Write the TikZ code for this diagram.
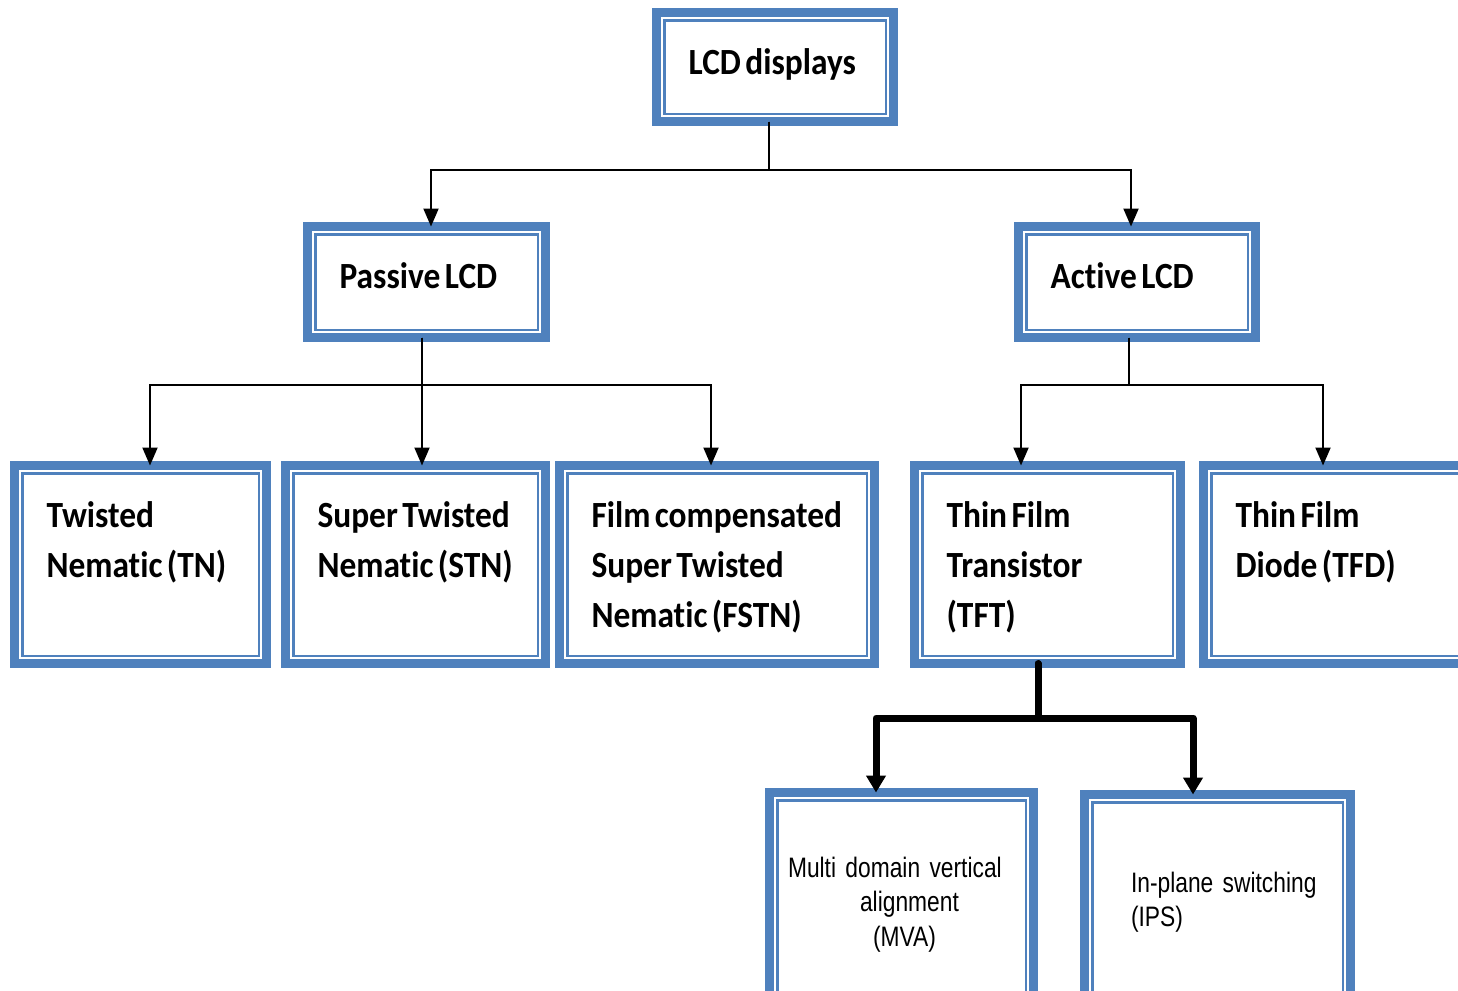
\documentclass[tikz,border=0pt]{standalone}
\usepackage{fontspec}
\usetikzlibrary{arrows.meta}

\newfontfamily\boxfont[FakeStretch=0.905, RawFeature={-liga;-clig;-calt}]{Carlito Bold}
\newfontfamily\narrowfont[FakeStretch=0.81]{Liberation Sans}
\newcommand\boxtextfont{\boxfont\fontsize{10.5}{14.2}\selectfont}
\newcommand\wsp{\nobreak\hspace{0.12em}}
\definecolor{lcdblue}{RGB}{79,129,189}
\hyphenpenalty=10000

\tikzset{
    lcdbox/.style={draw=lcdblue, fill=white, line width=0.09cm, outer sep=0pt,
        inner ysep=0pt, align=left, anchor=north west,
        path picture={\draw[lcdblue, line width=0.025cm]
            ([shift={(0.078cm,-0.078cm)}]path picture bounding box.north west) rectangle
            ([shift={(-0.078cm,0.078cm)}]path picture bounding box.south east);}},
    bigtext/.style={font=\boxtextfont, inner xsep=0.32cm, text height=0.62cm},
    smalltext/.style={font=\narrowfont\fontsize{8}{9.8}\selectfont},
    link/.style={line width=0.02cm, -{Triangle[width=0.15cm,length=0.18cm]}},
    heavylink/.style={line width=0.07cm, line join=round, line cap=round,
        -{Triangle[width=0.19cm,length=0.17cm]}}
}

\begin{document}
\begin{tikzpicture}[x=0.01cm, y=-0.01cm]

    \useasboundingbox (0,0) rectangle (1458,990);
    \clip (0,0) rectangle (1458,990);

    % Root
    \node[lcdbox, bigtext, text width=1.73cm, text depth=0.47cm] (lcd) at (656.5,12.5) {LCD\wsp displays};

    % Second level
    \node[lcdbox, bigtext, text width=1.74cm, text depth=0.49cm] (passive) at (307.5,226.5) {Passive\wsp LCD};
    \node[lcdbox, bigtext, text width=1.73cm, text depth=0.49cm] (active) at (1018.5,226.5) {Active\wsp LCD};

    % Third level
    \node[lcdbox, bigtext, text width=1.88cm, text depth=1.36cm] (tn) at (14.5,465.5) {Twisted\\Nematic\wsp(TN)};
    \node[lcdbox, bigtext, text width=1.96cm, text depth=1.36cm] (stn) at (285.5,465.5) {Super\wsp Twisted\\Nematic\wsp(STN)};
    \node[lcdbox, bigtext, text width=2.51cm, text depth=1.36cm] (fstn) at (559.5,465.5) {Film\wsp compensated\\Super\wsp Twisted\\Nematic\wsp(FSTN)};
    \node[lcdbox, bigtext, text width=2.02cm, text depth=1.36cm] (tft) at (914.5,465.5) {Thin\wsp Film\\Transistor\\(TFT)};
    \node[lcdbox, bigtext, text width=2.13cm, text depth=1.36cm] (tfd) at (1203.5,465.5) {Thin\wsp Film\\Diode\wsp(TFD)};

    % TFT types
    \node[lcdbox, smalltext, inner xsep=0.185cm, text width=2.27cm, text height=0.845cm, text depth=1.45cm]
        (mva) at (769.5,792.5) {Multi~domain~vertical\\\hspace*{0.72cm}alignment\\\hspace*{0.85cm}(MVA)};
    \node[lcdbox, smalltext, inner xsep=0.345cm, text width=1.97cm, text height=0.975cm, text depth=1.22cm]
        (ips) at (1084.5,794.5) {\hspace*{0.12cm}\mbox{In-plane~switching}\\\hspace*{0.12cm}(IPS)};

    % Connectors
    \draw[link] (lcd.south -| 769,0) |- (431,170) -- (passive.north -| 431,0);
    \draw[link] (lcd.south -| 769,0) |- (1131,170) -- (active.north -| 1131,0);

    \draw[link] (passive.south -| 422,0) |- (150,385) -- (tn.north -| 150,0);
    \draw[link] (passive.south -| 422,0) -- (stn.north -| 422,0);
    \draw[link] (passive.south -| 422,0) |- (711,385) -- (fstn.north -| 711,0);

    \draw[link] (active.south -| 1129,0) |- (1021,385) -- (tft.north -| 1021,0);
    \draw[link] (active.south -| 1129,0) |- (1323,385) -- (tfd.north -| 1323,0);

    \draw[heavylink] (tft.south -| 1038,0) |- (876,718) -- (mva.north -| 876,0);
    \draw[heavylink] (tft.south -| 1038,0) |- (1193,718) -- (ips.north -| 1193,0);

\end{tikzpicture}
\end{document}
